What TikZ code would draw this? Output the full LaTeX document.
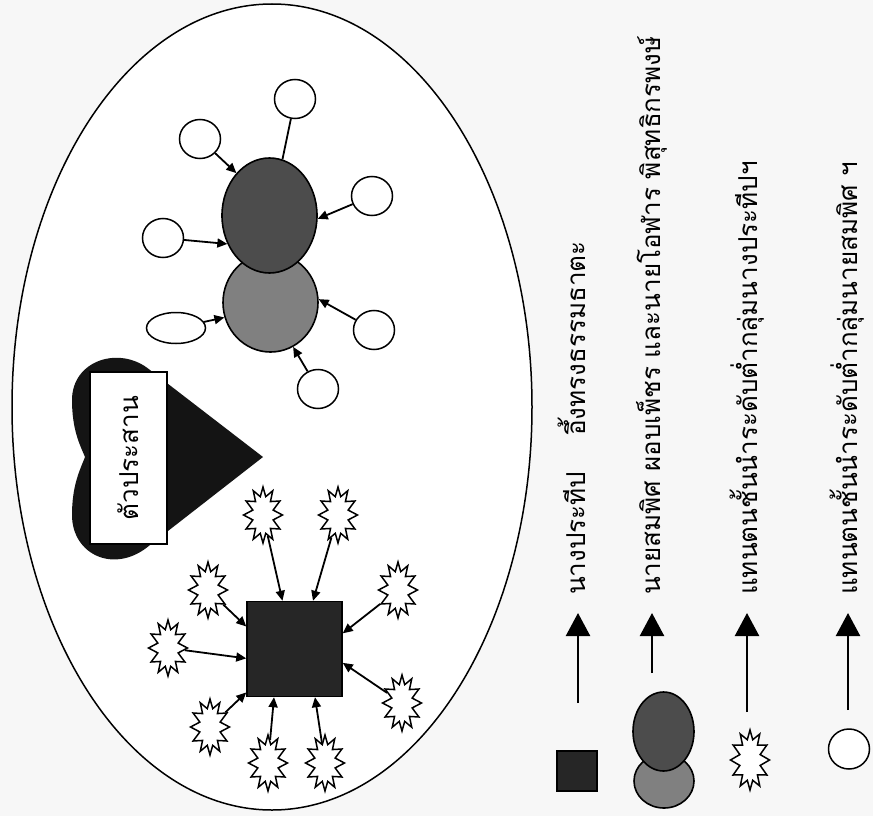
\documentclass[tikz,border=0pt]{standalone}
\usepackage{fontspec}
\newfontfamily\thaifont[Script=Thai]{Loma}
\usetikzlibrary{shapes.geometric,shapes.symbols,arrows.meta}

\tikzset{
  link/.style={line width=1.8pt},
  boss/.style={draw,line width=1.5pt,fill=black!85,minimum size=95pt,inner sep=0pt},
  dark/.style={ellipse,draw,line width=1.6pt,fill=black!70,minimum width=95pt,minimum height=115pt,inner sep=0pt},
  lite/.style={ellipse,draw,line width=1.6pt,fill=black!50,minimum width=95pt,minimum height=99pt,inner sep=0pt},
  dot/.style={ellipse,draw,line width=1.5pt,fill=white,minimum width=41pt,minimum height=39pt,inner sep=0pt},
  burst/.style={starburst,draw,line width=1.5pt,fill=white,minimum width=39pt,minimum height=56pt,
    inner sep=0pt,starburst points=12,starburst point height=9pt,random starburst=0},
  tag/.style={draw,line width=1.5pt,fill=white,rotate=90,minimum width=172pt,minimum height=77pt,
    inner sep=0pt,font=\thaifont\fontsize{26pt}{30pt}\selectfont},
  lab/.style={rotate=90,anchor=base west,inner sep=0pt,font=\thaifont\fontsize{26pt}{30pt}\selectfont},
  key/.style={line width=2.4pt,-{Triangle[length=23pt,width=24pt]}}
}

\begin{document}
\begin{tikzpicture}[x=1pt,y=-1pt,>={Triangle[length=10pt,width=9pt]}]
\useasboundingbox[fill=black!3] (0,0) rectangle (873,816);
%\draw[step=50,gray,very thin] (0,0) grid (873,816); %background grid
\draw[line width=1.5pt,fill=white] (272,407) ellipse (260 and 403);

% pair of leaders and their circles
\node[lite] (lt) at (270.5,302.5) {};
\node[dark] (dk) at (269.5,215.5) {};
\node[dot] (c1) at (295,99) {};
\node[dot] (c2) at (200,139) {};
\node[dot] (c3) at (372,196) {};
\node[dot] (c4) at (163,238) {};
\node[dot,minimum width=59pt,minimum height=31pt] (c5) at (176,328) {};
\node[dot] (c6) at (374,330) {};
\node[dot] (c7) at (318,389) {};
\draw[link] (c1) -- (dk.77);
\draw[link,->] (c2) -- (dk.128);
\draw[link,->] (c3) -- (dk.-4);
\draw[link,->] (c4) -- (dk.214);
\draw[link,->] (c5) -- (lt.198);
\draw[link,->] (c6) -- (lt.4);
\draw[link,->] (c7) -- (lt.297);

% heart
\fill[black!92] (263,457) -- (150,370) .. controls (120,345) and (72,360) .. (72,400)
  .. controls (72,430) and (80,445) .. (85,457) .. controls (80,470) and (72,485) .. (72,515)
  .. controls (72,555) and (115,575) .. (150,545) -- cycle;
\node[tag] (hub) at (128.5,458) {ตัวประสาน};

% square and its stars
\node[boss] (sq) at (294.5,649) {};
\node[burst] (s1) at (263,515) {};
\node[burst] (s2) at (338,515) {};
\node[burst] (s3) at (398,590) {};
\node[burst] (s4) at (402,703) {};
\node[burst] (s5) at (208,590) {};
\node[burst] (s6) at (168,648) {};
\node[burst] (s7) at (210,727) {};
\node[burst] (s8) at (268,763) {};
\node[burst] (s9) at (325,763) {};
\draw[link,->] (s1) -- (sq.104);
\draw[link,->] (s2) -- (sq.69);
\draw[link,->] (s3) -- (sq.18);
\draw[link,->] (s4) -- (sq.-16);
\draw[link,->] (s5) -- (sq.155);
\draw[link,->] (s6) -- (sq.191);
\draw[link,->] (s7) -- (sq.222);
\draw[link,->] (s8) -- (sq.247);
\draw[link,->] (s9) -- (sq.293);

% legend
\node[boss,minimum size=40pt] (k1) at (577,771) {};
\node[lite,minimum width=60pt,minimum height=54pt] (k2a) at (664,781) {};
\node[dark,minimum width=61pt,minimum height=79pt] (k2) at (663.5,731.5) {};
\node[burst,minimum width=39pt,minimum height=60pt] (k3) at (750,760) {};
\node[dot,minimum width=41pt,minimum height=40pt] (k4) at (849,749) {};
\coordinate (a1) at (578,703); \coordinate (b1) at (578,613);
\coordinate (a2) at (652,673); \coordinate (b2) at (652,613);
\coordinate (a3) at (747,712); \coordinate (b3) at (747,613);
\coordinate (a4) at (848,710); \coordinate (b4) at (848,613);
\draw[key] (a1) -- (b1);
\draw[key] (a2) -- (b2);
\draw[key] (a3) -- (b3);
\draw[key] (a4) -- (b4);
\node[lab] (t1) at (585,595) {นางประทีป\hspace{36pt}อึ้งทรงธรรมธาตะ};
\node[lab] (t2) at (660,595) {นายสมพิศ ผอบเพ็ชร และนายโอฬาร พิสุทธิกรพงษ์};
\node[lab] (t3) at (757,595) {แทนตนชั้นนำระดับต่ำกลุ่มนางประทีปฯ};
\node[lab] (t4) at (857,595) {แทนตนชั้นนำระดับต่ำกลุ่มนายสมพิศ ฯ};
\end{tikzpicture}
\end{document}
